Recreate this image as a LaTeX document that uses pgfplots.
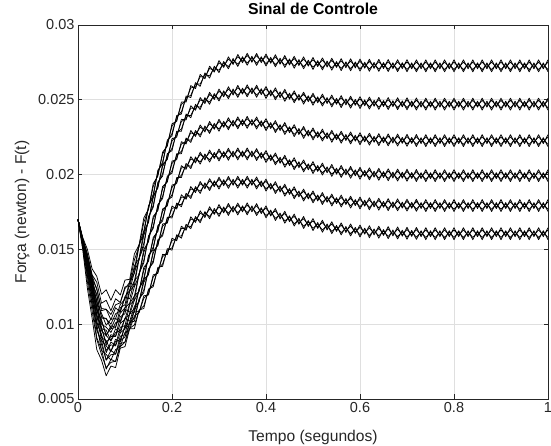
\documentclass[border=0pt]{standalone}
\usepackage{fontspec}
\setmainfont{Liberation Sans}
\usepackage{pgfplots}
\usepackage{pgfplotstable}
\pgfplotsset{compat=1.18}
\definecolor{axgray}{HTML}{262626}
\definecolor{gridgray}{HTML}{DFDFDF}

% F(t) for six gain groups, runs a and b
\pgfplotstableread{
t a1 b1 a2 b2 a3 b3 a4 b4 a5 b5 a6 b6
0 0.01700 0.01700 0.01700 0.01700 0.01700 0.01700 0.01700 0.01700 0.01700 0.01700 0.01700 0.01700
0.01 0.01580 0.01560 0.01575 0.01550 0.01565 0.01540 0.01560 0.01545 0.01555 0.01530 0.01550 0.01500
0.02 0.01500 0.01430 0.01470 0.01410 0.01450 0.01390 0.01430 0.01360 0.01420 0.01320 0.01410 0.01240
0.03 0.01370 0.01300 0.01330 0.01270 0.01300 0.01240 0.01270 0.01190 0.01250 0.01140 0.01230 0.01040
0.04 0.01320 0.01090 0.01280 0.01050 0.01240 0.01010 0.01200 0.00960 0.01160 0.00910 0.01120 0.00830
0.05 0.01200 0.01030 0.01140 0.00980 0.01090 0.00930 0.01040 0.00890 0.00970 0.00830 0.00910 0.00760
0.06 0.01230 0.00920 0.01160 0.00860 0.01100 0.00810 0.01040 0.00760 0.00960 0.00700 0.00890 0.00655
0.07 0.01160 0.00990 0.01090 0.00930 0.01030 0.00880 0.00970 0.00825 0.00890 0.00765 0.00820 0.00720
0.08 0.01230 0.00980 0.01170 0.00920 0.01110 0.00860 0.01040 0.00800 0.00970 0.00750 0.00900 0.00710
0.09 0.01195 0.01110 0.01145 0.01050 0.01080 0.00980 0.01010 0.00920 0.00940 0.00870 0.00880 0.00840
0.10 0.01295 0.01130 0.01250 0.01070 0.01180 0.00990 0.01100 0.00930 0.01040 0.00880 0.00990 0.00850
0.11 0.01300 0.01280 0.01250 0.01220 0.01170 0.01130 0.01080 0.01070 0.01020 0.01010 0.00980 0.00970
0.12 0.01470 0.01340 0.01390 0.01260 0.01290 0.01160 0.01190 0.01080 0.01120 0.01020 0.01090 0.00970
0.13 0.01530 0.01530 0.01440 0.01440 0.01330 0.01340 0.01220 0.01240 0.01150 0.01170 0.01080 0.01095
0.14 0.01710 0.01600 0.01620 0.01520 0.01500 0.01410 0.01380 0.01290 0.01300 0.01210 0.01190 0.01105
0.15 0.01770 0.01790 0.01680 0.01720 0.01550 0.01590 0.01420 0.01460 0.01330 0.01370 0.01195 0.01235
0.16 0.01940 0.01850 0.01860 0.01780 0.01720 0.01640 0.01580 0.01500 0.01490 0.01410 0.01330 0.01250
0.17 0.01990 0.02030 0.01910 0.01950 0.01760 0.01800 0.01620 0.01660 0.01525 0.01565 0.01340 0.01380
0.18 0.02150 0.02070 0.02070 0.01990 0.01920 0.01840 0.01770 0.01690 0.01670 0.01590 0.01467 0.01387
0.19 0.02190 0.02230 0.02100 0.02140 0.01950 0.01990 0.01790 0.01830 0.01675 0.01715 0.01465 0.01505
0.20 0.02340 0.02260 0.02240 0.02160 0.02090 0.02010 0.01930 0.01850 0.01790 0.01710 0.01575 0.01495
0.21 0.02355 0.02395 0.02250 0.02290 0.02100 0.02140 0.01940 0.01980 0.01770 0.01810 0.01558 0.01598
0.22 0.02485 0.02405 0.02370 0.02290 0.02220 0.02140 0.02060 0.01980 0.01865 0.01785 0.01655 0.01575
0.23 0.02485 0.02525 0.02365 0.02405 0.02205 0.02245 0.02035 0.02075 0.01835 0.01875 0.01628 0.01668
0.24 0.02595 0.02515 0.02460 0.02380 0.02295 0.02215 0.02120 0.02040 0.01920 0.01840 0.01718 0.01638
0.25 0.02575 0.02615 0.02430 0.02470 0.02255 0.02295 0.02078 0.02118 0.01880 0.01920 0.01680 0.01720
0.26 0.02670 0.02590 0.02515 0.02435 0.02332 0.02252 0.02150 0.02070 0.01954 0.01874 0.01758 0.01678
0.27 0.02640 0.02680 0.02475 0.02515 0.02285 0.02325 0.02098 0.02138 0.01905 0.01945 0.01713 0.01753
0.28 0.02725 0.02645 0.02550 0.02470 0.02355 0.02275 0.02164 0.02084 0.01973 0.01893 0.01785 0.01705
0.29 0.02685 0.02725 0.02502 0.02542 0.02303 0.02343 0.02108 0.02148 0.01919 0.01959 0.01734 0.01774
0.30 0.02762 0.02682 0.02572 0.02492 0.02370 0.02290 0.02171 0.02091 0.01983 0.01903 0.01800 0.01720
0.31 0.02716 0.02756 0.02520 0.02560 0.02316 0.02356 0.02114 0.02154 0.01926 0.01966 0.01744 0.01784
0.32 0.02787 0.02707 0.02587 0.02507 0.02380 0.02300 0.02176 0.02096 0.01988 0.01908 0.01807 0.01727
0.33 0.02736 0.02776 0.02532 0.02572 0.02323 0.02363 0.02117 0.02157 0.01929 0.01969 0.01749 0.01789
0.34 0.02803 0.02723 0.02596 0.02516 0.02386 0.02306 0.02178 0.02098 0.01989 0.01909 0.01810 0.01730
0.35 0.02748 0.02788 0.02538 0.02578 0.02328 0.02368 0.02118 0.02158 0.01929 0.01969 0.01751 0.01791
0.36 0.02811 0.02731 0.02600 0.02520 0.02389 0.02309 0.02178 0.02098 0.01989 0.01909 0.01811 0.01731
0.37 0.02751 0.02791 0.02540 0.02580 0.02329 0.02369 0.02118 0.02158 0.01929 0.01969 0.01751 0.01791
0.38 0.02810 0.02730 0.02597 0.02517 0.02385 0.02305 0.02174 0.02094 0.01984 0.01904 0.01806 0.01726
0.39 0.02748 0.02788 0.02534 0.02574 0.02320 0.02360 0.02108 0.02148 0.01918 0.01958 0.01739 0.01779
0.40 0.02806 0.02726 0.02589 0.02509 0.02374 0.02294 0.02161 0.02081 0.01970 0.01890 0.01791 0.01711
0.41 0.02744 0.02784 0.02525 0.02565 0.02308 0.02348 0.02093 0.02133 0.01902 0.01942 0.01723 0.01763
0.42 0.02801 0.02721 0.02580 0.02500 0.02361 0.02281 0.02145 0.02065 0.01953 0.01873 0.01773 0.01693
0.43 0.02738 0.02778 0.02514 0.02554 0.02294 0.02334 0.02076 0.02116 0.01884 0.01924 0.01703 0.01743
0.44 0.02796 0.02716 0.02570 0.02490 0.02348 0.02268 0.02129 0.02049 0.01936 0.01856 0.01755 0.01675
0.45 0.02733 0.02773 0.02504 0.02544 0.02280 0.02320 0.02060 0.02100 0.01867 0.01907 0.01685 0.01725
0.46 0.02791 0.02711 0.02560 0.02480 0.02334 0.02254 0.02113 0.02033 0.01919 0.01839 0.01736 0.01656
0.47 0.02729 0.02769 0.02496 0.02536 0.02268 0.02308 0.02046 0.02086 0.01851 0.01891 0.01668 0.01708
0.48 0.02787 0.02707 0.02551 0.02471 0.02322 0.02242 0.02098 0.02018 0.01903 0.01823 0.01720 0.01640
0.49 0.02725 0.02765 0.02487 0.02527 0.02257 0.02297 0.02032 0.02072 0.01837 0.01877 0.01653 0.01693
0.50 0.02783 0.02703 0.02544 0.02464 0.02312 0.02232 0.02087 0.02007 0.01891 0.01811 0.01706 0.01626
0.51 0.02722 0.02762 0.02480 0.02520 0.02247 0.02287 0.02021 0.02061 0.01824 0.01864 0.01640 0.01680
0.52 0.02780 0.02700 0.02538 0.02458 0.02304 0.02224 0.02077 0.01997 0.01880 0.01800 0.01695 0.01615
0.53 0.02719 0.02759 0.02475 0.02515 0.02240 0.02280 0.02012 0.02052 0.01815 0.01855 0.01630 0.01670
0.54 0.02778 0.02698 0.02532 0.02452 0.02296 0.02216 0.02068 0.01988 0.01870 0.01790 0.01685 0.01605
0.55 0.02716 0.02756 0.02470 0.02510 0.02233 0.02273 0.02003 0.02043 0.01806 0.01846 0.01620 0.01660
0.56 0.02775 0.02695 0.02528 0.02448 0.02290 0.02210 0.02061 0.01981 0.01863 0.01783 0.01677 0.01597
0.57 0.02714 0.02754 0.02466 0.02506 0.02228 0.02268 0.01998 0.02038 0.01800 0.01840 0.01613 0.01653
0.58 0.02774 0.02694 0.02524 0.02444 0.02285 0.02205 0.02055 0.01975 0.01856 0.01776 0.01670 0.01590
0.59 0.02713 0.02753 0.02463 0.02503 0.02223 0.02263 0.01992 0.02032 0.01793 0.01833 0.01607 0.01647
0.60 0.02772 0.02692 0.02521 0.02441 0.02280 0.02200 0.02049 0.01969 0.01850 0.01770 0.01663 0.01583
0.61 0.02711 0.02751 0.02460 0.02500 0.02219 0.02259 0.01988 0.02028 0.01789 0.01829 0.01602 0.01642
0.62 0.02771 0.02691 0.02518 0.02438 0.02277 0.02197 0.02045 0.01965 0.01845 0.01765 0.01658 0.01578
0.63 0.02710 0.02750 0.02457 0.02497 0.02216 0.02256 0.01983 0.02023 0.01784 0.01824 0.01597 0.01637
0.64 0.02770 0.02690 0.02516 0.02436 0.02274 0.02194 0.02042 0.01962 0.01842 0.01762 0.01655 0.01575
0.65 0.02709 0.02749 0.02455 0.02495 0.02213 0.02253 0.01980 0.02020 0.01781 0.01821 0.01593 0.01633
0.66 0.02769 0.02689 0.02515 0.02435 0.02272 0.02192 0.02039 0.01959 0.01839 0.01759 0.01652 0.01572
0.67 0.02708 0.02748 0.02454 0.02494 0.02211 0.02251 0.01977 0.02017 0.01778 0.01818 0.01590 0.01630
0.68 0.02768 0.02688 0.02514 0.02434 0.02271 0.02191 0.02037 0.01957 0.01838 0.01758 0.01650 0.01570
0.69 0.02708 0.02748 0.02453 0.02493 0.02209 0.02249 0.01976 0.02016 0.01776 0.01816 0.01588 0.01628
0.70 0.02768 0.02688 0.02513 0.02433 0.02269 0.02189 0.02036 0.01956 0.01836 0.01756 0.01648 0.01568
0.71 0.02707 0.02747 0.02452 0.02492 0.02208 0.02248 0.01974 0.02014 0.01775 0.01815 0.01587 0.01627
0.72 0.02767 0.02687 0.02512 0.02432 0.02268 0.02188 0.02034 0.01954 0.01835 0.01755 0.01647 0.01567
0.73 0.02707 0.02747 0.02451 0.02491 0.02207 0.02247 0.01973 0.02013 0.01773 0.01813 0.01585 0.01625
0.74 0.02767 0.02687 0.02511 0.02431 0.02267 0.02187 0.02033 0.01953 0.01833 0.01753 0.01645 0.01565
0.75 0.02707 0.02747 0.02451 0.02491 0.02207 0.02247 0.01973 0.02013 0.01773 0.01813 0.01585 0.01625
0.76 0.02767 0.02687 0.02511 0.02431 0.02267 0.02187 0.02033 0.01953 0.01833 0.01753 0.01645 0.01565
0.77 0.02707 0.02747 0.02451 0.02491 0.02207 0.02247 0.01973 0.02013 0.01773 0.01813 0.01585 0.01625
0.78 0.02767 0.02687 0.02511 0.02431 0.02267 0.02187 0.02033 0.01953 0.01833 0.01753 0.01645 0.01565
0.79 0.02707 0.02747 0.02451 0.02491 0.02207 0.02247 0.01973 0.02013 0.01773 0.01813 0.01585 0.01625
0.80 0.02767 0.02687 0.02511 0.02431 0.02267 0.02187 0.02033 0.01953 0.01833 0.01753 0.01645 0.01565
0.81 0.02707 0.02747 0.02451 0.02491 0.02207 0.02247 0.01973 0.02013 0.01773 0.01813 0.01585 0.01625
0.82 0.02767 0.02687 0.02511 0.02431 0.02267 0.02187 0.02033 0.01953 0.01833 0.01753 0.01645 0.01565
0.83 0.02707 0.02747 0.02451 0.02491 0.02207 0.02247 0.01973 0.02013 0.01773 0.01813 0.01585 0.01625
0.84 0.02767 0.02687 0.02511 0.02431 0.02267 0.02187 0.02033 0.01953 0.01833 0.01753 0.01645 0.01565
0.85 0.02707 0.02747 0.02451 0.02491 0.02207 0.02247 0.01973 0.02013 0.01773 0.01813 0.01585 0.01625
0.86 0.02767 0.02687 0.02511 0.02431 0.02267 0.02187 0.02033 0.01953 0.01833 0.01753 0.01645 0.01565
0.87 0.02707 0.02747 0.02451 0.02491 0.02207 0.02247 0.01973 0.02013 0.01773 0.01813 0.01585 0.01625
0.88 0.02767 0.02687 0.02511 0.02431 0.02267 0.02187 0.02033 0.01953 0.01833 0.01753 0.01645 0.01565
0.89 0.02707 0.02747 0.02451 0.02491 0.02207 0.02247 0.01973 0.02013 0.01773 0.01813 0.01585 0.01625
0.90 0.02767 0.02687 0.02511 0.02431 0.02267 0.02187 0.02033 0.01953 0.01833 0.01753 0.01645 0.01565
0.91 0.02707 0.02747 0.02451 0.02491 0.02207 0.02247 0.01973 0.02013 0.01773 0.01813 0.01585 0.01625
0.92 0.02767 0.02687 0.02511 0.02431 0.02267 0.02187 0.02033 0.01953 0.01833 0.01753 0.01645 0.01565
0.93 0.02707 0.02747 0.02451 0.02491 0.02207 0.02247 0.01973 0.02013 0.01773 0.01813 0.01585 0.01625
0.94 0.02767 0.02687 0.02511 0.02431 0.02267 0.02187 0.02033 0.01953 0.01833 0.01753 0.01645 0.01565
0.95 0.02707 0.02747 0.02451 0.02491 0.02207 0.02247 0.01973 0.02013 0.01773 0.01813 0.01585 0.01625
0.96 0.02767 0.02687 0.02511 0.02431 0.02267 0.02187 0.02033 0.01953 0.01833 0.01753 0.01645 0.01565
0.97 0.02707 0.02747 0.02451 0.02491 0.02207 0.02247 0.01973 0.02013 0.01773 0.01813 0.01585 0.01625
0.98 0.02767 0.02687 0.02511 0.02431 0.02267 0.02187 0.02033 0.01953 0.01833 0.01753 0.01645 0.01565
0.99 0.02707 0.02747 0.02451 0.02491 0.02207 0.02247 0.01973 0.02013 0.01773 0.01813 0.01585 0.01625
1.00 0.02767 0.02687 0.02511 0.02431 0.02267 0.02187 0.02033 0.01953 0.01833 0.01753 0.01645 0.01565
}\forca

% runs c and d of the same groups
\pgfplotstableread{
t c1 d1 c2 d2 c3 d3 c4 d4 c5 d5 c6 d6
0 0.01700 0.01700 0.01700 0.01700 0.01700 0.01700 0.01700 0.01700 0.01700 0.01700 0.01700 0.01700
0.01 0.01570 0.01565 0.01563 0.01556 0.01553 0.01546 0.01553 0.01549 0.01543 0.01536 0.01525 0.01513
0.02 0.01465 0.01448 0.01440 0.01425 0.01420 0.01405 0.01395 0.01378 0.01370 0.01345 0.01325 0.01283
0.03 0.01325 0.01318 0.01290 0.01285 0.01260 0.01255 0.01220 0.01210 0.01185 0.01168 0.01125 0.01088
0.04 0.01230 0.01143 0.01190 0.01103 0.01150 0.01063 0.01105 0.01015 0.01060 0.00968 0.01000 0.00898
0.05 0.01105 0.01073 0.01050 0.01020 0.01000 0.00970 0.00955 0.00928 0.00890 0.00865 0.00825 0.00798
0.06 0.01100 0.00993 0.01035 0.00930 0.00980 0.00878 0.00925 0.00825 0.00855 0.00760 0.00798 0.00709
0.07 0.01065 0.01033 0.01000 0.00970 0.00945 0.00918 0.00888 0.00862 0.00818 0.00796 0.00760 0.00745
0.08 0.01130 0.01038 0.01070 0.00978 0.01010 0.00918 0.00945 0.00855 0.00885 0.00800 0.00830 0.00753
0.09 0.01143 0.01132 0.01088 0.01074 0.01020 0.01005 0.00955 0.00943 0.00895 0.00888 0.00850 0.00850
0.10 0.01238 0.01167 0.01185 0.01110 0.01110 0.01033 0.01040 0.00968 0.00985 0.00915 0.00945 0.00880
0.11 0.01280 0.01285 0.01225 0.01228 0.01140 0.01140 0.01065 0.01073 0.01005 0.01013 0.00965 0.00973
0.12 0.01430 0.01368 0.01350 0.01288 0.01250 0.01188 0.01160 0.01103 0.01095 0.01040 0.01055 0.00995
0.13 0.01520 0.01530 0.01430 0.01440 0.01325 0.01338 0.01220 0.01235 0.01150 0.01165 0.01078 0.01092
0.14 0.01680 0.01623 0.01595 0.01540 0.01480 0.01428 0.01360 0.01308 0.01280 0.01228 0.01173 0.01122
0.15 0.01770 0.01785 0.01690 0.01710 0.01560 0.01580 0.01430 0.01450 0.01340 0.01360 0.01205 0.01225
0.16 0.01920 0.01868 0.01845 0.01795 0.01705 0.01655 0.01565 0.01515 0.01475 0.01425 0.01315 0.01265
0.17 0.02000 0.02020 0.01920 0.01940 0.01770 0.01790 0.01630 0.01650 0.01535 0.01555 0.01350 0.01370
0.18 0.02135 0.02085 0.02055 0.02005 0.01905 0.01855 0.01755 0.01705 0.01655 0.01605 0.01452 0.01402
0.19 0.02200 0.02220 0.02110 0.02130 0.01960 0.01980 0.01800 0.01820 0.01685 0.01705 0.01475 0.01495
0.20 0.02325 0.02275 0.02225 0.02175 0.02075 0.02025 0.01915 0.01865 0.01775 0.01725 0.01560 0.01510
0.21 0.02365 0.02385 0.02260 0.02280 0.02110 0.02130 0.01950 0.01970 0.01780 0.01800 0.01568 0.01588
0.22 0.02470 0.02420 0.02355 0.02305 0.02205 0.02155 0.02045 0.01995 0.01850 0.01800 0.01640 0.01590
0.23 0.02495 0.02515 0.02375 0.02395 0.02215 0.02235 0.02045 0.02065 0.01845 0.01865 0.01638 0.01658
0.24 0.02580 0.02530 0.02445 0.02395 0.02280 0.02230 0.02105 0.02055 0.01905 0.01855 0.01703 0.01653
0.25 0.02585 0.02605 0.02440 0.02460 0.02265 0.02285 0.02088 0.02108 0.01890 0.01910 0.01690 0.01710
0.26 0.02655 0.02605 0.02500 0.02450 0.02317 0.02267 0.02135 0.02085 0.01939 0.01889 0.01743 0.01693
0.27 0.02650 0.02670 0.02485 0.02505 0.02295 0.02315 0.02108 0.02128 0.01915 0.01935 0.01723 0.01743
0.28 0.02710 0.02660 0.02535 0.02485 0.02340 0.02290 0.02149 0.02099 0.01958 0.01908 0.01770 0.01720
0.29 0.02695 0.02715 0.02512 0.02532 0.02313 0.02333 0.02118 0.02138 0.01929 0.01949 0.01744 0.01764
0.30 0.02747 0.02697 0.02557 0.02507 0.02355 0.02305 0.02156 0.02106 0.01968 0.01918 0.01785 0.01735
0.31 0.02726 0.02746 0.02530 0.02550 0.02326 0.02346 0.02124 0.02144 0.01936 0.01956 0.01754 0.01774
0.32 0.02772 0.02722 0.02572 0.02522 0.02365 0.02315 0.02161 0.02111 0.01973 0.01923 0.01792 0.01742
0.33 0.02746 0.02766 0.02542 0.02562 0.02333 0.02353 0.02127 0.02147 0.01939 0.01959 0.01759 0.01779
0.34 0.02788 0.02738 0.02581 0.02531 0.02371 0.02321 0.02163 0.02113 0.01974 0.01924 0.01795 0.01745
0.35 0.02758 0.02778 0.02548 0.02568 0.02338 0.02358 0.02128 0.02148 0.01939 0.01959 0.01761 0.01781
0.36 0.02796 0.02746 0.02585 0.02535 0.02374 0.02324 0.02163 0.02113 0.01974 0.01924 0.01796 0.01746
0.37 0.02761 0.02781 0.02550 0.02570 0.02339 0.02359 0.02128 0.02148 0.01939 0.01959 0.01761 0.01781
0.38 0.02795 0.02745 0.02582 0.02532 0.02370 0.02320 0.02159 0.02109 0.01969 0.01919 0.01791 0.01741
0.39 0.02758 0.02778 0.02544 0.02564 0.02330 0.02350 0.02118 0.02138 0.01928 0.01948 0.01749 0.01769
0.40 0.02791 0.02741 0.02574 0.02524 0.02359 0.02309 0.02146 0.02096 0.01955 0.01905 0.01776 0.01726
0.41 0.02754 0.02774 0.02535 0.02555 0.02318 0.02338 0.02103 0.02123 0.01912 0.01932 0.01733 0.01753
0.42 0.02786 0.02736 0.02565 0.02515 0.02346 0.02296 0.02130 0.02080 0.01938 0.01888 0.01758 0.01708
0.43 0.02748 0.02768 0.02524 0.02544 0.02304 0.02324 0.02086 0.02106 0.01894 0.01914 0.01713 0.01733
0.44 0.02781 0.02731 0.02555 0.02505 0.02333 0.02283 0.02114 0.02064 0.01921 0.01871 0.01740 0.01690
0.45 0.02743 0.02763 0.02514 0.02534 0.02290 0.02310 0.02070 0.02090 0.01877 0.01897 0.01695 0.01715
0.46 0.02776 0.02726 0.02545 0.02495 0.02319 0.02269 0.02098 0.02048 0.01904 0.01854 0.01721 0.01671
0.47 0.02739 0.02759 0.02506 0.02526 0.02278 0.02298 0.02056 0.02076 0.01861 0.01881 0.01678 0.01698
0.48 0.02772 0.02722 0.02536 0.02486 0.02307 0.02257 0.02083 0.02033 0.01888 0.01838 0.01705 0.01655
0.49 0.02735 0.02755 0.02497 0.02517 0.02267 0.02287 0.02042 0.02062 0.01847 0.01867 0.01663 0.01683
0.50 0.02768 0.02718 0.02529 0.02479 0.02297 0.02247 0.02072 0.02022 0.01876 0.01826 0.01691 0.01641
0.51 0.02732 0.02752 0.02490 0.02510 0.02257 0.02277 0.02031 0.02051 0.01834 0.01854 0.01650 0.01670
0.52 0.02765 0.02715 0.02523 0.02473 0.02289 0.02239 0.02062 0.02012 0.01865 0.01815 0.01680 0.01630
0.53 0.02729 0.02749 0.02485 0.02505 0.02250 0.02270 0.02022 0.02042 0.01825 0.01845 0.01640 0.01660
0.54 0.02763 0.02713 0.02517 0.02467 0.02281 0.02231 0.02053 0.02003 0.01855 0.01805 0.01670 0.01620
0.55 0.02726 0.02746 0.02480 0.02500 0.02243 0.02263 0.02013 0.02033 0.01816 0.01836 0.01630 0.01650
0.56 0.02760 0.02710 0.02513 0.02463 0.02275 0.02225 0.02046 0.01996 0.01848 0.01798 0.01662 0.01612
0.57 0.02724 0.02744 0.02476 0.02496 0.02238 0.02258 0.02008 0.02028 0.01810 0.01830 0.01623 0.01643
0.58 0.02759 0.02709 0.02509 0.02459 0.02270 0.02220 0.02040 0.01990 0.01841 0.01791 0.01655 0.01605
0.59 0.02723 0.02743 0.02473 0.02493 0.02233 0.02253 0.02002 0.02022 0.01803 0.01823 0.01617 0.01637
0.60 0.02757 0.02707 0.02506 0.02456 0.02265 0.02215 0.02034 0.01984 0.01835 0.01785 0.01648 0.01598
0.61 0.02721 0.02741 0.02470 0.02490 0.02229 0.02249 0.01998 0.02018 0.01799 0.01819 0.01612 0.01632
0.62 0.02756 0.02706 0.02503 0.02453 0.02262 0.02212 0.02030 0.01980 0.01830 0.01780 0.01643 0.01593
0.63 0.02720 0.02740 0.02467 0.02487 0.02226 0.02246 0.01993 0.02013 0.01794 0.01814 0.01607 0.01627
0.64 0.02755 0.02705 0.02501 0.02451 0.02259 0.02209 0.02027 0.01977 0.01827 0.01777 0.01640 0.01590
0.65 0.02719 0.02739 0.02465 0.02485 0.02223 0.02243 0.01990 0.02010 0.01791 0.01811 0.01603 0.01623
0.66 0.02754 0.02704 0.02500 0.02450 0.02257 0.02207 0.02024 0.01974 0.01824 0.01774 0.01637 0.01587
0.67 0.02718 0.02738 0.02464 0.02484 0.02221 0.02241 0.01987 0.02007 0.01788 0.01808 0.01600 0.01620
0.68 0.02753 0.02703 0.02499 0.02449 0.02256 0.02206 0.02022 0.01972 0.01823 0.01773 0.01635 0.01585
0.69 0.02718 0.02738 0.02463 0.02483 0.02219 0.02239 0.01986 0.02006 0.01786 0.01806 0.01598 0.01618
0.70 0.02753 0.02703 0.02498 0.02448 0.02254 0.02204 0.02021 0.01971 0.01821 0.01771 0.01633 0.01583
0.71 0.02717 0.02737 0.02462 0.02482 0.02218 0.02238 0.01984 0.02004 0.01785 0.01805 0.01597 0.01617
0.72 0.02752 0.02702 0.02497 0.02447 0.02253 0.02203 0.02019 0.01969 0.01820 0.01770 0.01632 0.01582
0.73 0.02717 0.02737 0.02461 0.02481 0.02217 0.02237 0.01983 0.02003 0.01783 0.01803 0.01595 0.01615
0.74 0.02752 0.02702 0.02496 0.02446 0.02252 0.02202 0.02018 0.01968 0.01818 0.01768 0.01630 0.01580
0.75 0.02717 0.02737 0.02461 0.02481 0.02217 0.02237 0.01983 0.02003 0.01783 0.01803 0.01595 0.01615
0.76 0.02752 0.02702 0.02496 0.02446 0.02252 0.02202 0.02018 0.01968 0.01818 0.01768 0.01630 0.01580
0.77 0.02717 0.02737 0.02461 0.02481 0.02217 0.02237 0.01983 0.02003 0.01783 0.01803 0.01595 0.01615
0.78 0.02752 0.02702 0.02496 0.02446 0.02252 0.02202 0.02018 0.01968 0.01818 0.01768 0.01630 0.01580
0.79 0.02717 0.02737 0.02461 0.02481 0.02217 0.02237 0.01983 0.02003 0.01783 0.01803 0.01595 0.01615
0.80 0.02752 0.02702 0.02496 0.02446 0.02252 0.02202 0.02018 0.01968 0.01818 0.01768 0.01630 0.01580
0.81 0.02717 0.02737 0.02461 0.02481 0.02217 0.02237 0.01983 0.02003 0.01783 0.01803 0.01595 0.01615
0.82 0.02752 0.02702 0.02496 0.02446 0.02252 0.02202 0.02018 0.01968 0.01818 0.01768 0.01630 0.01580
0.83 0.02717 0.02737 0.02461 0.02481 0.02217 0.02237 0.01983 0.02003 0.01783 0.01803 0.01595 0.01615
0.84 0.02752 0.02702 0.02496 0.02446 0.02252 0.02202 0.02018 0.01968 0.01818 0.01768 0.01630 0.01580
0.85 0.02717 0.02737 0.02461 0.02481 0.02217 0.02237 0.01983 0.02003 0.01783 0.01803 0.01595 0.01615
0.86 0.02752 0.02702 0.02496 0.02446 0.02252 0.02202 0.02018 0.01968 0.01818 0.01768 0.01630 0.01580
0.87 0.02717 0.02737 0.02461 0.02481 0.02217 0.02237 0.01983 0.02003 0.01783 0.01803 0.01595 0.01615
0.88 0.02752 0.02702 0.02496 0.02446 0.02252 0.02202 0.02018 0.01968 0.01818 0.01768 0.01630 0.01580
0.89 0.02717 0.02737 0.02461 0.02481 0.02217 0.02237 0.01983 0.02003 0.01783 0.01803 0.01595 0.01615
0.90 0.02752 0.02702 0.02496 0.02446 0.02252 0.02202 0.02018 0.01968 0.01818 0.01768 0.01630 0.01580
0.91 0.02717 0.02737 0.02461 0.02481 0.02217 0.02237 0.01983 0.02003 0.01783 0.01803 0.01595 0.01615
0.92 0.02752 0.02702 0.02496 0.02446 0.02252 0.02202 0.02018 0.01968 0.01818 0.01768 0.01630 0.01580
0.93 0.02717 0.02737 0.02461 0.02481 0.02217 0.02237 0.01983 0.02003 0.01783 0.01803 0.01595 0.01615
0.94 0.02752 0.02702 0.02496 0.02446 0.02252 0.02202 0.02018 0.01968 0.01818 0.01768 0.01630 0.01580
0.95 0.02717 0.02737 0.02461 0.02481 0.02217 0.02237 0.01983 0.02003 0.01783 0.01803 0.01595 0.01615
0.96 0.02752 0.02702 0.02496 0.02446 0.02252 0.02202 0.02018 0.01968 0.01818 0.01768 0.01630 0.01580
0.97 0.02717 0.02737 0.02461 0.02481 0.02217 0.02237 0.01983 0.02003 0.01783 0.01803 0.01595 0.01615
0.98 0.02752 0.02702 0.02496 0.02446 0.02252 0.02202 0.02018 0.01968 0.01818 0.01768 0.01630 0.01580
0.99 0.02717 0.02737 0.02461 0.02481 0.02217 0.02237 0.01983 0.02003 0.01783 0.01803 0.01595 0.01615
1.00 0.02752 0.02702 0.02496 0.02446 0.02252 0.02202 0.02018 0.01968 0.01818 0.01768 0.01630 0.01580
}\forcacd

\begin{document}
\begin{tikzpicture}
\begin{axis}[
  scale only axis,
  width=470pt, height=374pt,
  xmin=0, xmax=1, ymin=0.005, ymax=0.03,
  xtick={0,0.2,0.4,0.6,0.8,1},
  ytick={0.005,0.01,0.015,0.02,0.025,0.03},
  scaled x ticks=false, scaled y ticks=false,
  yticklabel style={/pgf/number format/fixed, /pgf/number format/precision=3},
  /pgf/number format/assume math mode=true,
  tick label style={font=\fontsize{14.5}{16}\selectfont, text=axgray},
  grid=major,
  grid style={gridgray, line width=0.6pt},
  axis line style={axgray, line width=0.6pt},
  tick style={axgray, line width=0.6pt},
  major tick length=4.5pt,
  tick align=inside,
  title={\textbf{Sinal de Controle}},
  title style={font=\fontsize{15.8}{18}\selectfont, at={(axis description cs:0.5,1.027)}, anchor=center},
  xlabel={Tempo (segundos)},
  xlabel style={font=\fontsize{15.6}{18}\selectfont, text=axgray, at={(axis description cs:0.5,-0.102)}, anchor=center},
  ylabel={Força (newton) - F(t)},
  ylabel style={font=\fontsize{15.6}{18}\selectfont, text=axgray, at={(axis description cs:-0.119,0.5)}, anchor=center},
  run/.style={black, line width=0.75pt, line join=round},
]
\addplot[run] table[x=t, y=a1] {\forca};
\addplot[run] table[x=t, y=b1] {\forca};
\addplot[run] table[x=t, y=a2] {\forca};
\addplot[run] table[x=t, y=b2] {\forca};
\addplot[run] table[x=t, y=a3] {\forca};
\addplot[run] table[x=t, y=b3] {\forca};
\addplot[run] table[x=t, y=a4] {\forca};
\addplot[run] table[x=t, y=b4] {\forca};
\addplot[run] table[x=t, y=a5] {\forca};
\addplot[run] table[x=t, y=b5] {\forca};
\addplot[run] table[x=t, y=a6] {\forca};
\addplot[run] table[x=t, y=b6] {\forca};
\addplot[run] table[x=t, y=c1] {\forcacd};
\addplot[run] table[x=t, y=d1] {\forcacd};
\addplot[run] table[x=t, y=c2] {\forcacd};
\addplot[run] table[x=t, y=d2] {\forcacd};
\addplot[run] table[x=t, y=c3] {\forcacd};
\addplot[run] table[x=t, y=d3] {\forcacd};
\addplot[run] table[x=t, y=c4] {\forcacd};
\addplot[run] table[x=t, y=d4] {\forcacd};
\addplot[run] table[x=t, y=c5] {\forcacd};
\addplot[run] table[x=t, y=d5] {\forcacd};
\addplot[run] table[x=t, y=c6] {\forcacd};
\addplot[run] table[x=t, y=d6] {\forcacd};
\end{axis}
\pgfresetboundingbox
\path[use as bounding box] ([shift={(-78pt,-47pt)}]current axis.south west) rectangle ([shift={(3pt,25pt)}]current axis.north east);
\end{tikzpicture}
\end{document}
